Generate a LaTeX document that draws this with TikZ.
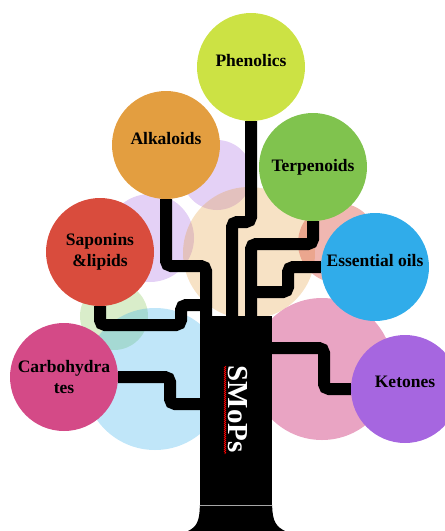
\documentclass[tikz,border=0pt]{standalone}
\usepackage{fontspec}
\setmainfont{Liberation Serif}
\usetikzlibrary{decorations.pathmorphing}

\definecolor{cPhen}{HTML}{CCE244}
\definecolor{cAlk}{HTML}{E39E40}
\definecolor{cTerp}{HTML}{80C34E}
\definecolor{cSap}{HTML}{D94C3D}
\definecolor{cEss}{HTML}{30ACEA}
\definecolor{cCarb}{HTML}{D44A87}
\definecolor{cKet}{HTML}{A666E0}

\begin{document}
\begin{tikzpicture}[x=1pt,y=-1pt,
    bubble/.style={circle,minimum size=108pt,inner sep=0pt,align=center,
      font=\fontsize{17.5}{21}\selectfont\bfseries},
    lifted/.style={text depth=14pt},
    haze/.style={fill=#1,fill opacity=0.3},
    branch/.style={line width=12pt,rounded corners=5pt}]
    \clip (0,0) rectangle (445,531);

    % pale circles behind the tree
    \fill[haze=cKet] (217,175) circle (35pt);
    \fill[haze=cKet] (150,238) circle (44pt);
    \fill[haze=cAlk] (249,253) circle (66pt);
    \fill[haze=cSap,fill opacity=0.4] (338,243) circle (40pt);
    \fill[haze=cTerp] (114,316) circle (34pt);
    \fill[haze=cEss] (155,379) circle (71pt);
    \fill[haze=cCarb,fill opacity=0.5] (322,369) circle (71pt);

    \node[fill=black,minimum width=72pt,minimum height=189pt,inner sep=0pt] (trunk) at (236,410.5) {};
    \fill (trunk.south west) .. controls +(0,17) and +(8,-4) .. (188,531)
      -- (285,531) .. controls +(-8,-4) and +(0,17) .. (trunk.south east) -- cycle;
    \draw[gray!70,line width=0.8pt] (trunk.south west) -- (trunk.south east);

    \node[bubble,lifted,fill=cPhen] (phen) at (251,67) {Phenolics};
    \node[bubble,lifted,fill=cAlk] (alk) at (166,145) {Alkaloids};
    \node[bubble,fill=cTerp] (terp) at (313,167) {Terpenoids};
    \node[bubble,fill=cSap] (sap) at (100,252) {Saponins\\\&lipids};
    \node[bubble,lifted,fill=cEss] (ess) at (375,267) {Essential oils};
    \node[bubble,fill=cCarb] (carb) at (64,377) {Carbohydra\\tes};
    \node[bubble,lifted,fill=cKet] (ket) at (405,389) {Ketones};

    \draw[branch] (phen.south) -- (251,222) -| ([yshift=-4pt]trunk.north -| 232,0);
    \draw[branch] (alk.south) |- (206,266) -- ([yshift=-4pt]trunk.north -| 206,0);
    \draw[branch] (terp.south) |- (251,244) -- ([yshift=-4pt]trunk.north -| 251,0);
    \draw[branch] (ess.west) -| (288,292) -- (251,292);
    \draw[branch] (sap.south) |- (181,325) |- (206,305);
    \draw[branch] (carb.east) -| (170,404) -- (trunk.west |- 0,404);
    \draw[branch] (trunk.east |- 0,348) -| (324,389) -- (ket.west);

    \node[rotate=-90,text=white,font=\fontsize{29}{29}\selectfont\bfseries] (smops) at (238,409) {SMoPs};
    \draw[red,line width=0.6pt,decorate,decoration={snake,amplitude=0.8pt,segment length=2pt}]
      (225,366) -- (225,454);
\end{tikzpicture}
\end{document}
